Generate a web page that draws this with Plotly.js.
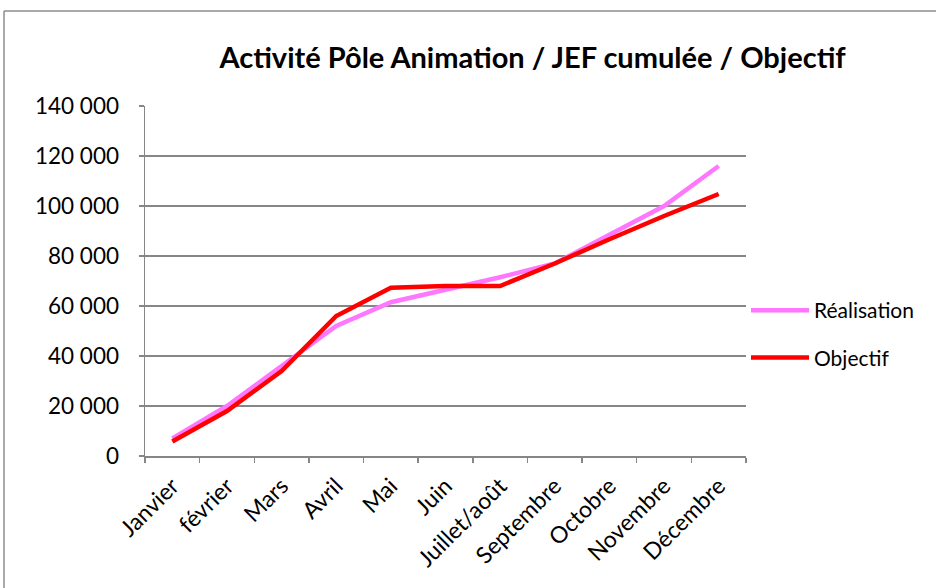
<!DOCTYPE html>
<html>
<head>
<meta charset="utf-8">
<script src="https://cdn.plot.ly/plotly-3.0.1.min.js"></script>
<style>html,body{margin:0;padding:0;background:#fff;}#chart{width:936px;height:588px;}</style>
</head>
<body>
<div id="chart"></div>
<script>
const months = ["Janvier","février","Mars","Avril","Mai","Juin","Juillet/août","Septembre","Octobre","Novembre","Décembre"];
const realisation = [7000, 20000, 36000, 52000, 61500, 66500, 71500, 77000, 88500, 100000, 116000];
const objectif = [5800, 18000, 34000, 56000, 67300, 68000, 68000, 77000, 86700, 96000, 104800];
const seriesNames = ["Réalisation", "Objectif"];
const titleText = "Activité Pôle Animation / JEF cumulée / Objectif";

const font = "Lato, 'Open Sans', sans-serif";
const gray = "#868686";

const traces = [
  {x: months, y: realisation, name: seriesNames[0], type: "scatter", mode: "lines",
   line: {color: "#FF77FF", width: 4.5}, legendgroup: "a"},
  {x: months, y: objectif, name: seriesNames[1], type: "scatter", mode: "lines",
   line: {color: "#FF0000", width: 4.5}, legendgroup: "b"}
];

const layout = {
  width: 936, height: 588,
  margin: {l: 145, r: 190, t: 106, b: 132},
  paper_bgcolor: "#fff", plot_bgcolor: "#fff",
  separators: ", ",
  font: {family: font, size: 20, color: "#000"},
  title: {text: "<b>" + titleText + "</b>", font: {family: font, size: 29, color: "#000"},
          x: 0.569, xanchor: "center", y: 1 - 58/588, yanchor: "middle", xref: "container", yref: "container"},
  xaxis: {type: "category", tickangle: -45, ticks: "outside", ticklen: 5, tickcolor: gray, tickwidth: 1.5,
          tickson: "boundaries", showline: true, linecolor: gray, linewidth: 1.5, showgrid: false,
          tickfont: {family: font, size: 23}, ticklabelstandoff: 6, range: [-0.5, 10.5], fixedrange: true},
  yaxis: {range: [0, 140000], dtick: 20000, tickformat: ",.0f", ticks: "outside", ticklen: 5, tickcolor: gray,
          tickwidth: 1.5, showline: true, linecolor: gray, linewidth: 1.5, showgrid: true, gridcolor: gray,
          gridwidth: 1.5, zeroline: false, tickfont: {family: font, size: 22.5}, ticklabelstandoff: 15, fixedrange: true},
  legend: {x: 1.0, xanchor: "left", y: (456-290)/350, yanchor: "top", font: {family: font, size: 21},
           itemwidth: 58, tracegroupgap: 17, bgcolor: "rgba(0,0,0,0)"},
  shapes: [
    {type: "line", xref: "paper", yref: "paper", x0: (4-145)/601, x1: (4-145)/601, y0: (456-11)/350, y1: (456-600)/350,
     line: {color: "#8c8c8c", width: 1.5}},
    {type: "line", xref: "paper", yref: "paper", x0: (4-145)/601, x1: (940-145)/601, y0: (456-11)/350, y1: (456-11)/350,
     line: {color: "#8c8c8c", width: 1.5}}
  ]
};

Plotly.newPlot("chart", traces, layout, {displayModeBar: false, staticPlot: true});
</script>
</body>
</html>
